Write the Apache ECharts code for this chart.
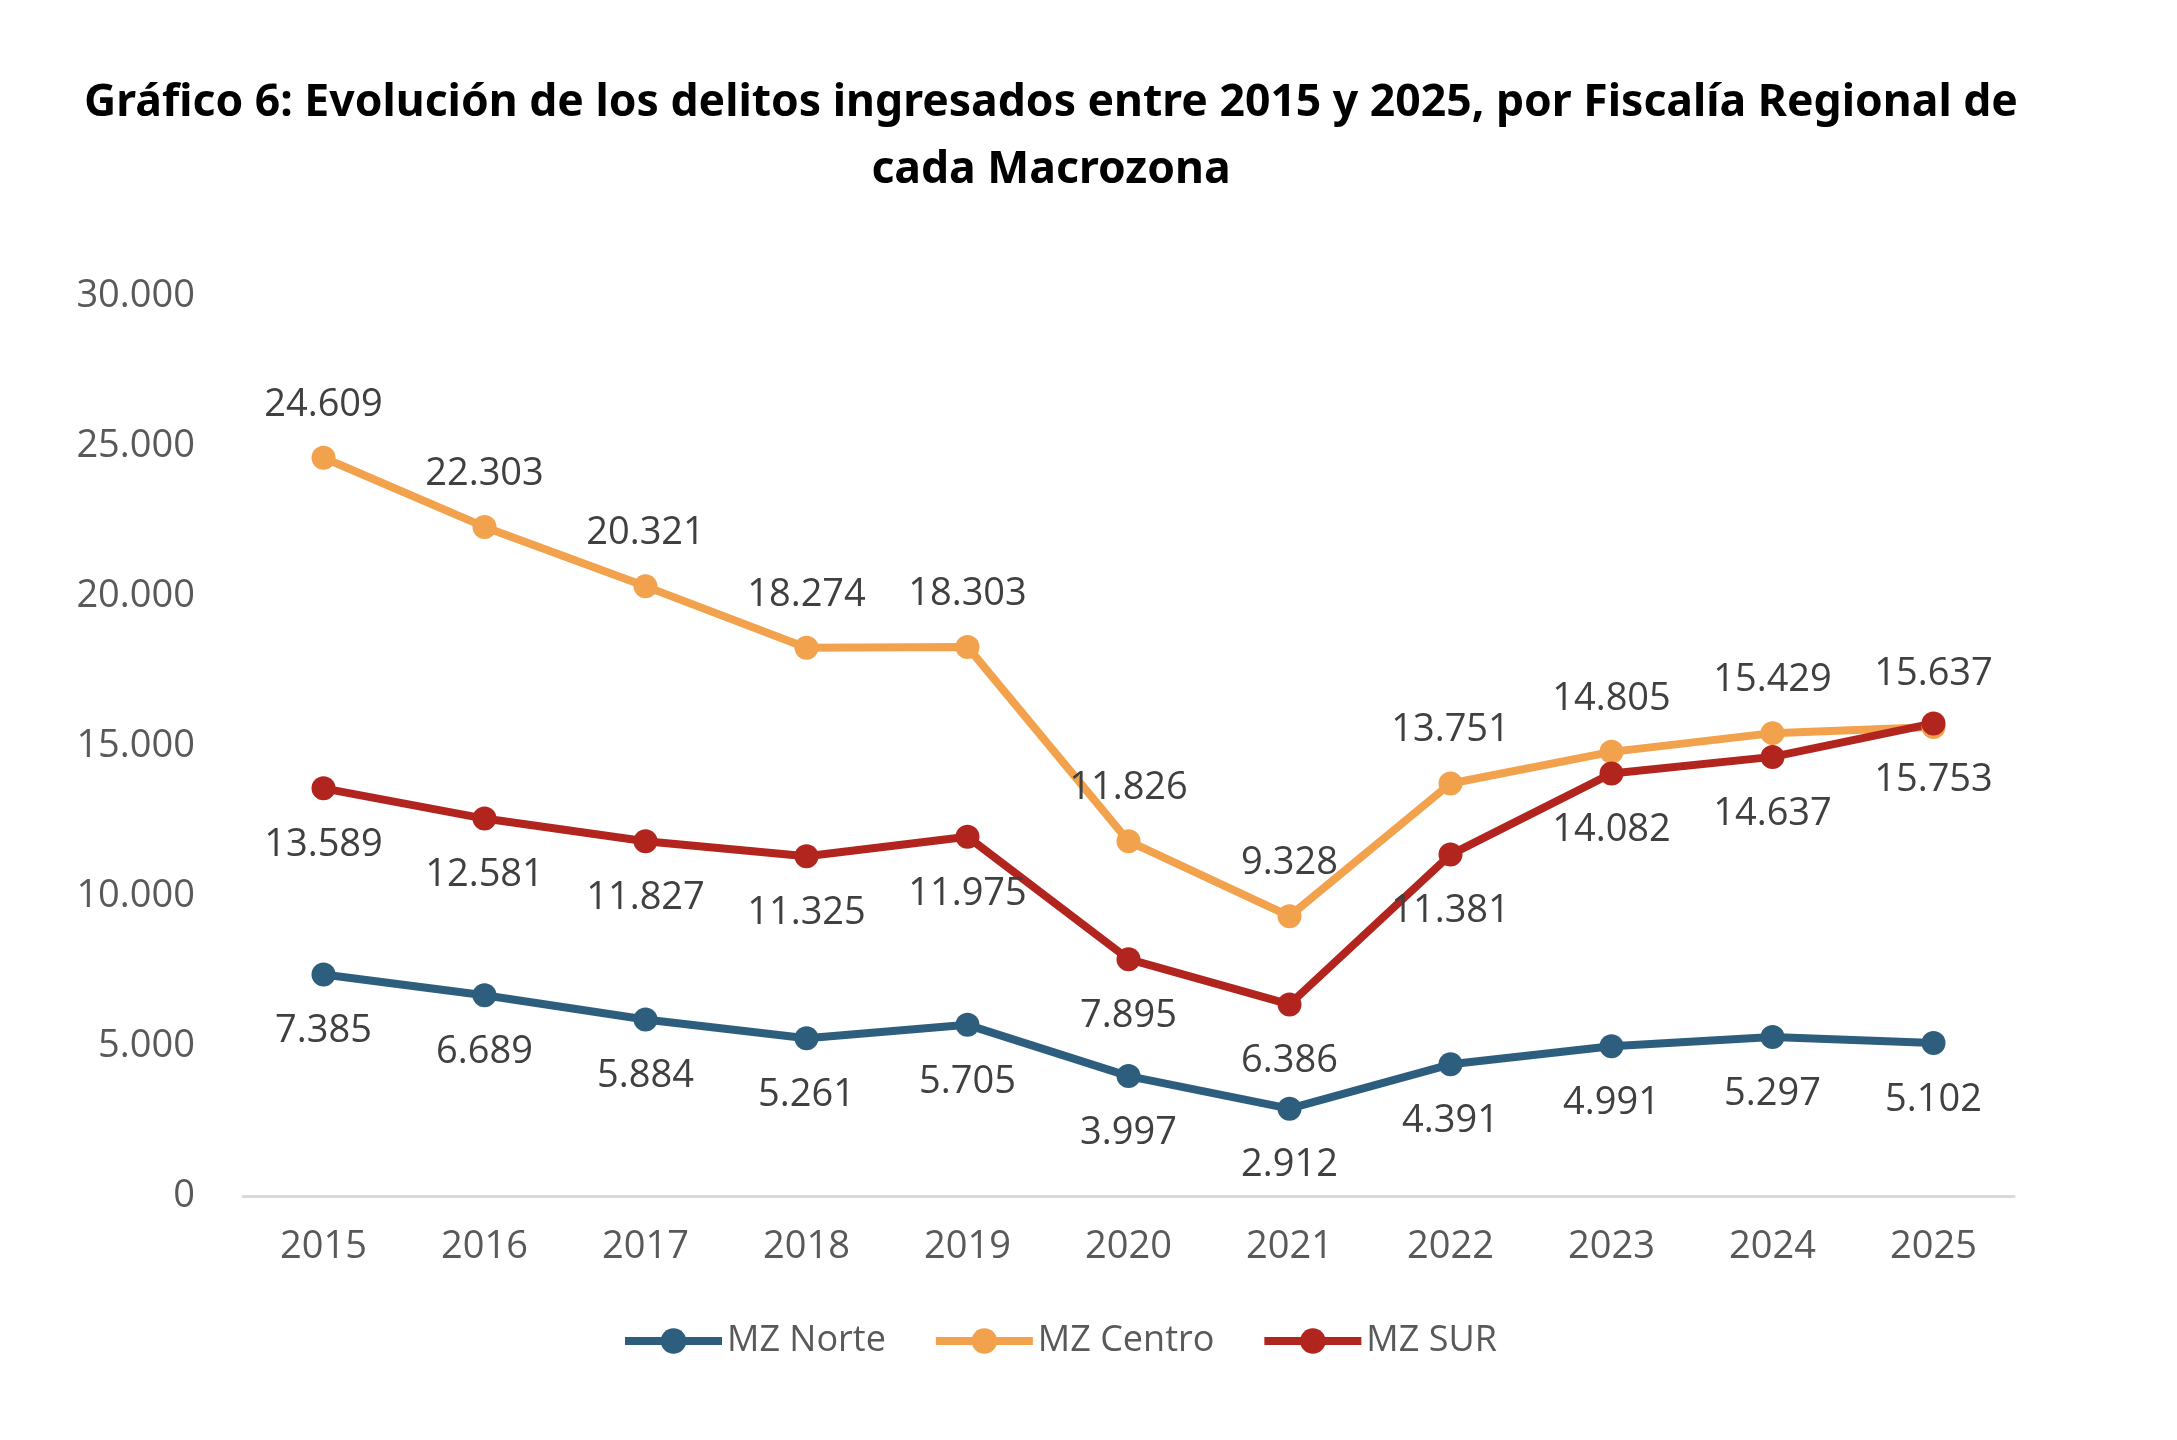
<!DOCTYPE html>
<html>
<head>
<meta charset="utf-8">
<title>Gráfico 6</title>
<script src="https://cdn.jsdelivr.net/npm/echarts@6/dist/echarts.min.js"></script>
<style>
  html, body { margin: 0; padding: 0; background: #fff; }
  #chart { width: 2177px; height: 1440px; }
</style>
</head>
<body>
<div id="chart"></div>
<script>
const years = ["2015", "2016", "2017", "2018", "2019", "2020", "2021", "2022", "2023", "2024", "2025"];
const mzNorte = [7385, 6689, 5884, 5261, 5705, 3997, 2912, 4391, 4991, 5297, 5102];
const mzCentro = [24609, 22303, 20321, 18274, 18303, 11826, 9328, 13751, 14805, 15429, 15637];
const mzSur = [13589, 12581, 11827, 11325, 11975, 7895, 6386, 11381, 14082, 14637, 15753];

const fmt = (v) => String(v).replace(/\B(?=(\d{3})+(?!\d))/g, ".");

const chart = echarts.init(document.getElementById("chart"));

const makeSeries = (name, data, color, pos) => ({
  name,
  type: "line",
  data,
  symbol: "circle",
  symbolSize: 24,
  lineStyle: { width: 8, color },
  itemStyle: { color },
  label: {
    show: true,
    position: pos,
    distance: pos === "top" ? 22 : 26,
    color: "#404040",
    fontSize: 38,
    fontFamily: "Open Sans",
    formatter: (p) => fmt(p.value),
  },
});

chart.setOption({
  animation: false,
  title: {
    text: "Gráfico 6: Evolución de los delitos ingresados entre 2015 y 2025, por Fiscalía Regional de\ncada Macrozona",
    left: 1046,
    top: 65,
    textAlign: "center",
    textStyle: {
      fontFamily: "Noto Sans",
      fontWeight: "bold",
      fontSize: 44.5,
      lineHeight: 67,
      color: "#000",
    },
  },
  grid: { left: 243, right: 163, top: 296, bottom: 244 },
  legend: {
    left: 616,
    top: 1318,
    itemWidth: 97,
    itemHeight: 32,
    itemGap: 46,
    lineStyle: { width: 8 },
    textStyle: { fontSize: 36, color: "#595959", fontFamily: "Open Sans" },
    data: ["MZ Norte", "MZ Centro", "MZ SUR"],
  },
  xAxis: {
    type: "category",
    data: years,
    axisLine: { lineStyle: { color: "#d9d9d9", width: 3 } },
    axisTick: { show: false },
    axisLabel: { color: "#595959", fontSize: 38, fontFamily: "Open Sans", margin: 32 },
  },
  yAxis: {
    type: "value",
    min: 0,
    max: 30000,
    interval: 5000,
    splitLine: { show: false },
    axisLine: { show: false },
    axisTick: { show: false },
    axisLabel: {
      color: "#595959",
      fontSize: 38,
      fontFamily: "Open Sans",
      margin: 48,
      formatter: (v) => fmt(v),
    },
  },
  series: [
    makeSeries("MZ Norte", mzNorte, "#2E5E7E", "bottom"),
    makeSeries("MZ Centro", mzCentro, "#F2A24C", "top"),
    makeSeries("MZ SUR", mzSur, "#B2251E", "bottom"),
  ],
});
</script>
</body>
</html>
